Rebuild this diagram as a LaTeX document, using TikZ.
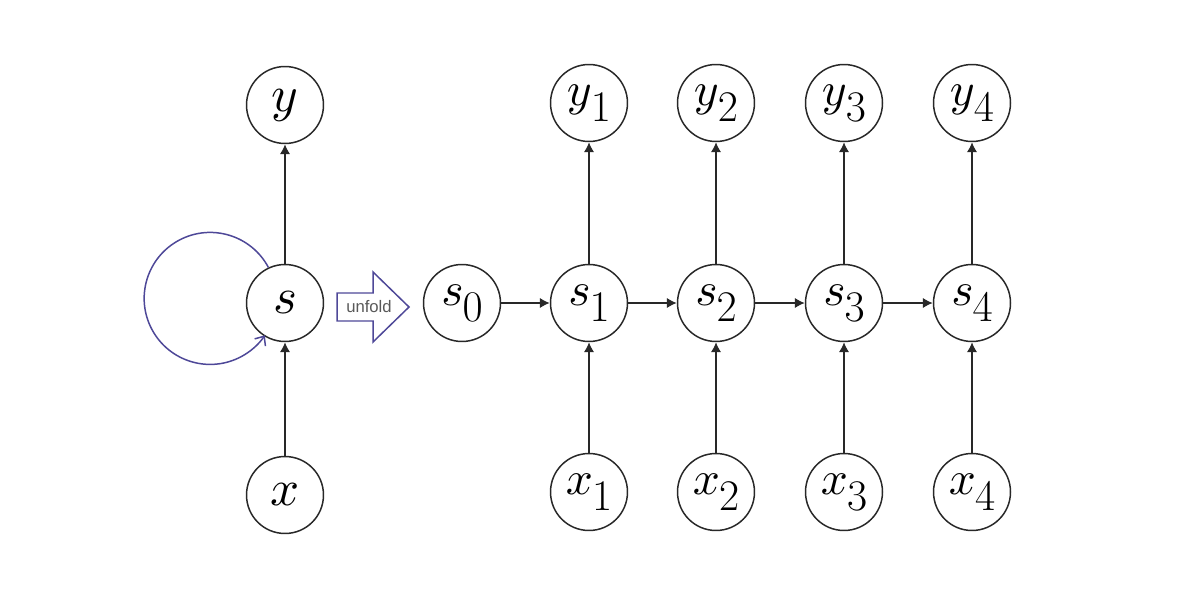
\documentclass[tikz,border=0pt]{standalone}
\usepackage{fontspec}
\newfontfamily\labelsans{Liberation Sans}
\usetikzlibrary{arrows.meta}
\DeclareFontFamily{OML}{bigcmm}{\skewchar\font'177}
\DeclareFontShape{OML}{bigcmm}{m}{it}{<->cmmi10}{}
\DeclareSymbolFont{letters}{OML}{bigcmm}{m}{it}
\DeclareFontFamily{OT1}{bigcmr}{}
\DeclareFontShape{OT1}{bigcmr}{m}{n}{<->cmr10}{}
\DeclareSymbolFont{operators}{OT1}{bigcmr}{m}{n}
\definecolor{loopc}{RGB}{78,72,152}
\definecolor{linec}{RGB}{40,40,40}
\newcommand\idx[2]{$#1$\kern-0.02em\raisebox{-0.34em}{\fontsize{25}{25}\selectfont$#2$}}
\begin{document}
\begin{tikzpicture}[x=0.02cm,y=-0.02cm,
  unit/.style={circle,draw=linec,line width=0.85pt,minimum size=1.54cm,inner sep=0pt,font=\fontsize{27}{27}\selectfont},
  bigunit/.style={unit,font=\fontsize{29}{29}\selectfont},
  conn/.style={draw=linec,line width=0.95pt,-{Latex[length=2mm,width=2.1mm]}}]
\useasboundingbox (0,0) rectangle (1200,608);
% folded
\node[bigunit] (y) at (285,105) {$y$};
\node[bigunit] (s) at (285,303) {$s$};
\node[bigunit] (x) at (285,495) {$x$};
\draw[conn] (x) -- (s);
\draw[conn] (s) -- (y);
\draw[draw=loopc,line width=0.85pt,-{Straight Barb[length=1.5mm,width=2.6mm]}] (s.115) arc[start angle=28,end angle=326,radius=1.32cm];
% unfold arrow
\draw[draw=loopc,line width=0.85pt,fill=white] (337,293) -- (373,293) -- (373,272) -- (409,307) -- (373,342) -- (373,321) -- (337,321) -- cycle;
\node[font=\labelsans\fontsize{9.5}{9.5}\selectfont,text=black!65,inner sep=0pt] (unf) at (369,307) {unfold};
% unfolded
\node[unit] (s0) at (462,303) {\idx{s}{0}};
\foreach \i/\cx in {1/589,2/716,3/844,4/972}{
  \node[unit] (y\i) at (\cx,103) {\idx{y}{\i}};
  \node[unit] (s\i) at (\cx,303) {\idx{s}{\i}};
  \node[unit] (x\i) at (\cx,492) {\idx{x}{\i}};
  \draw[conn] (x\i) -- (s\i);
  \draw[conn] (s\i) -- (y\i);
}
\draw[conn] (s0) -- (s1);
\draw[conn] (s1) -- (s2);
\draw[conn] (s2) -- (s3);
\draw[conn] (s3) -- (s4);
\end{tikzpicture}
\end{document}
